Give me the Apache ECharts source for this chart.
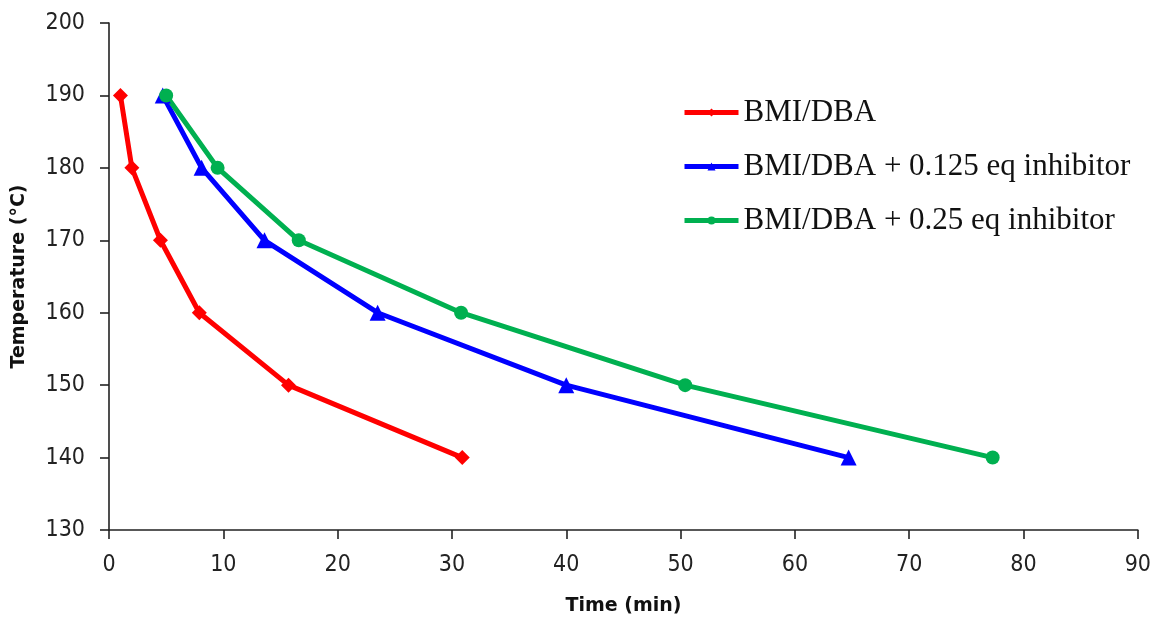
<!DOCTYPE html>
<html>
<head>
<meta charset="utf-8">
<script src="https://cdn.jsdelivr.net/npm/echarts@6/dist/echarts.min.js"></script>
<style>html,body{margin:0;padding:0;background:#fff;}#c{width:1154px;height:621px;}</style>
</head>
<body>
<div id="c"></div>
<script>
const temps = [190, 180, 170, 160, 150, 140];
const timeBase = [1.0, 2.0, 4.5, 7.9, 15.7, 30.9];
const time0125 = [4.7, 8.1, 13.6, 23.5, 40.0, 64.7];
const time025 = [5.0, 9.5, 16.6, 30.8, 50.4, 77.3];
const seriesNames = ['BMI/DBA', 'BMI/DBA + 0.125 eq inhibitor', 'BMI/DBA + 0.25 eq inhibitor'];
const xTitle = 'Time (min)';
const yTitle = 'Temperature (°C)';

function pairs(xs, ys) { return xs.map((x, i) => [x, ys[i]]); }

const chart = echarts.init(document.getElementById('c'), null, {renderer: 'canvas'});
const axisTxt = {color: '#222', fontFamily: '"DejaVu Sans Condensed", "Liberation Sans", sans-serif', fontSize: 23};
const axisLine = {show: true, lineStyle: {color: '#222', width: 1.6}};
const axisTick = {show: true, length: 9, lineStyle: {color: '#222', width: 1.6}};
const titleTxt = {fontFamily: 'DejaVu Sans', fontWeight: 'bold', fontSize: 19, color: '#111'};

function mk(name, data, color, symbol, size) {
  return {
    name: name, type: 'line', data: data, color: color,
    symbol: symbol, symbolSize: size, showSymbol: true,
    lineStyle: {width: 5, color: color},
    itemStyle: {color: color},
    animation: false
  };
}

chart.setOption({
  animation: false,
  grid: {left: 109, right: 16, top: 23, bottom: 88, containLabel: false},
  legend: {
    orient: 'vertical', left: 677, top: 92, itemGap: 23,
    itemWidth: 54, itemHeight: 10,
    lineStyle: {width: 5},
    textStyle: {fontFamily: 'Liberation Serif', fontSize: 31, color: '#111'},
    data: seriesNames
  },
  xAxis: {
    type: 'value', min: 0, max: 90, interval: 10,
    name: xTitle, nameLocation: 'middle', nameGap: 67,
    nameTextStyle: titleTxt,
    axisLine: axisLine, axisTick: axisTick, splitLine: {show: false},
    axisLabel: Object.assign({margin: 24}, axisTxt)
  },
  yAxis: {
    type: 'value', min: 130, max: 200, interval: 10,
    name: yTitle, nameLocation: 'middle', nameGap: 80, nameRotate: 90,
    nameTextStyle: titleTxt,
    axisLine: axisLine, axisTick: axisTick, splitLine: {show: false},
    axisLabel: Object.assign({margin: 24}, axisTxt)
  },
  series: [
    mk(seriesNames[0], pairs(timeBase, temps), '#FF0000', 'diamond', 15),
    mk(seriesNames[1], pairs(time0125, temps), '#0000FF', 'triangle', 16),
    mk(seriesNames[2], pairs(time025, temps), '#00B050', 'circle', 14)
  ]
});
</script>
</body>
</html>
